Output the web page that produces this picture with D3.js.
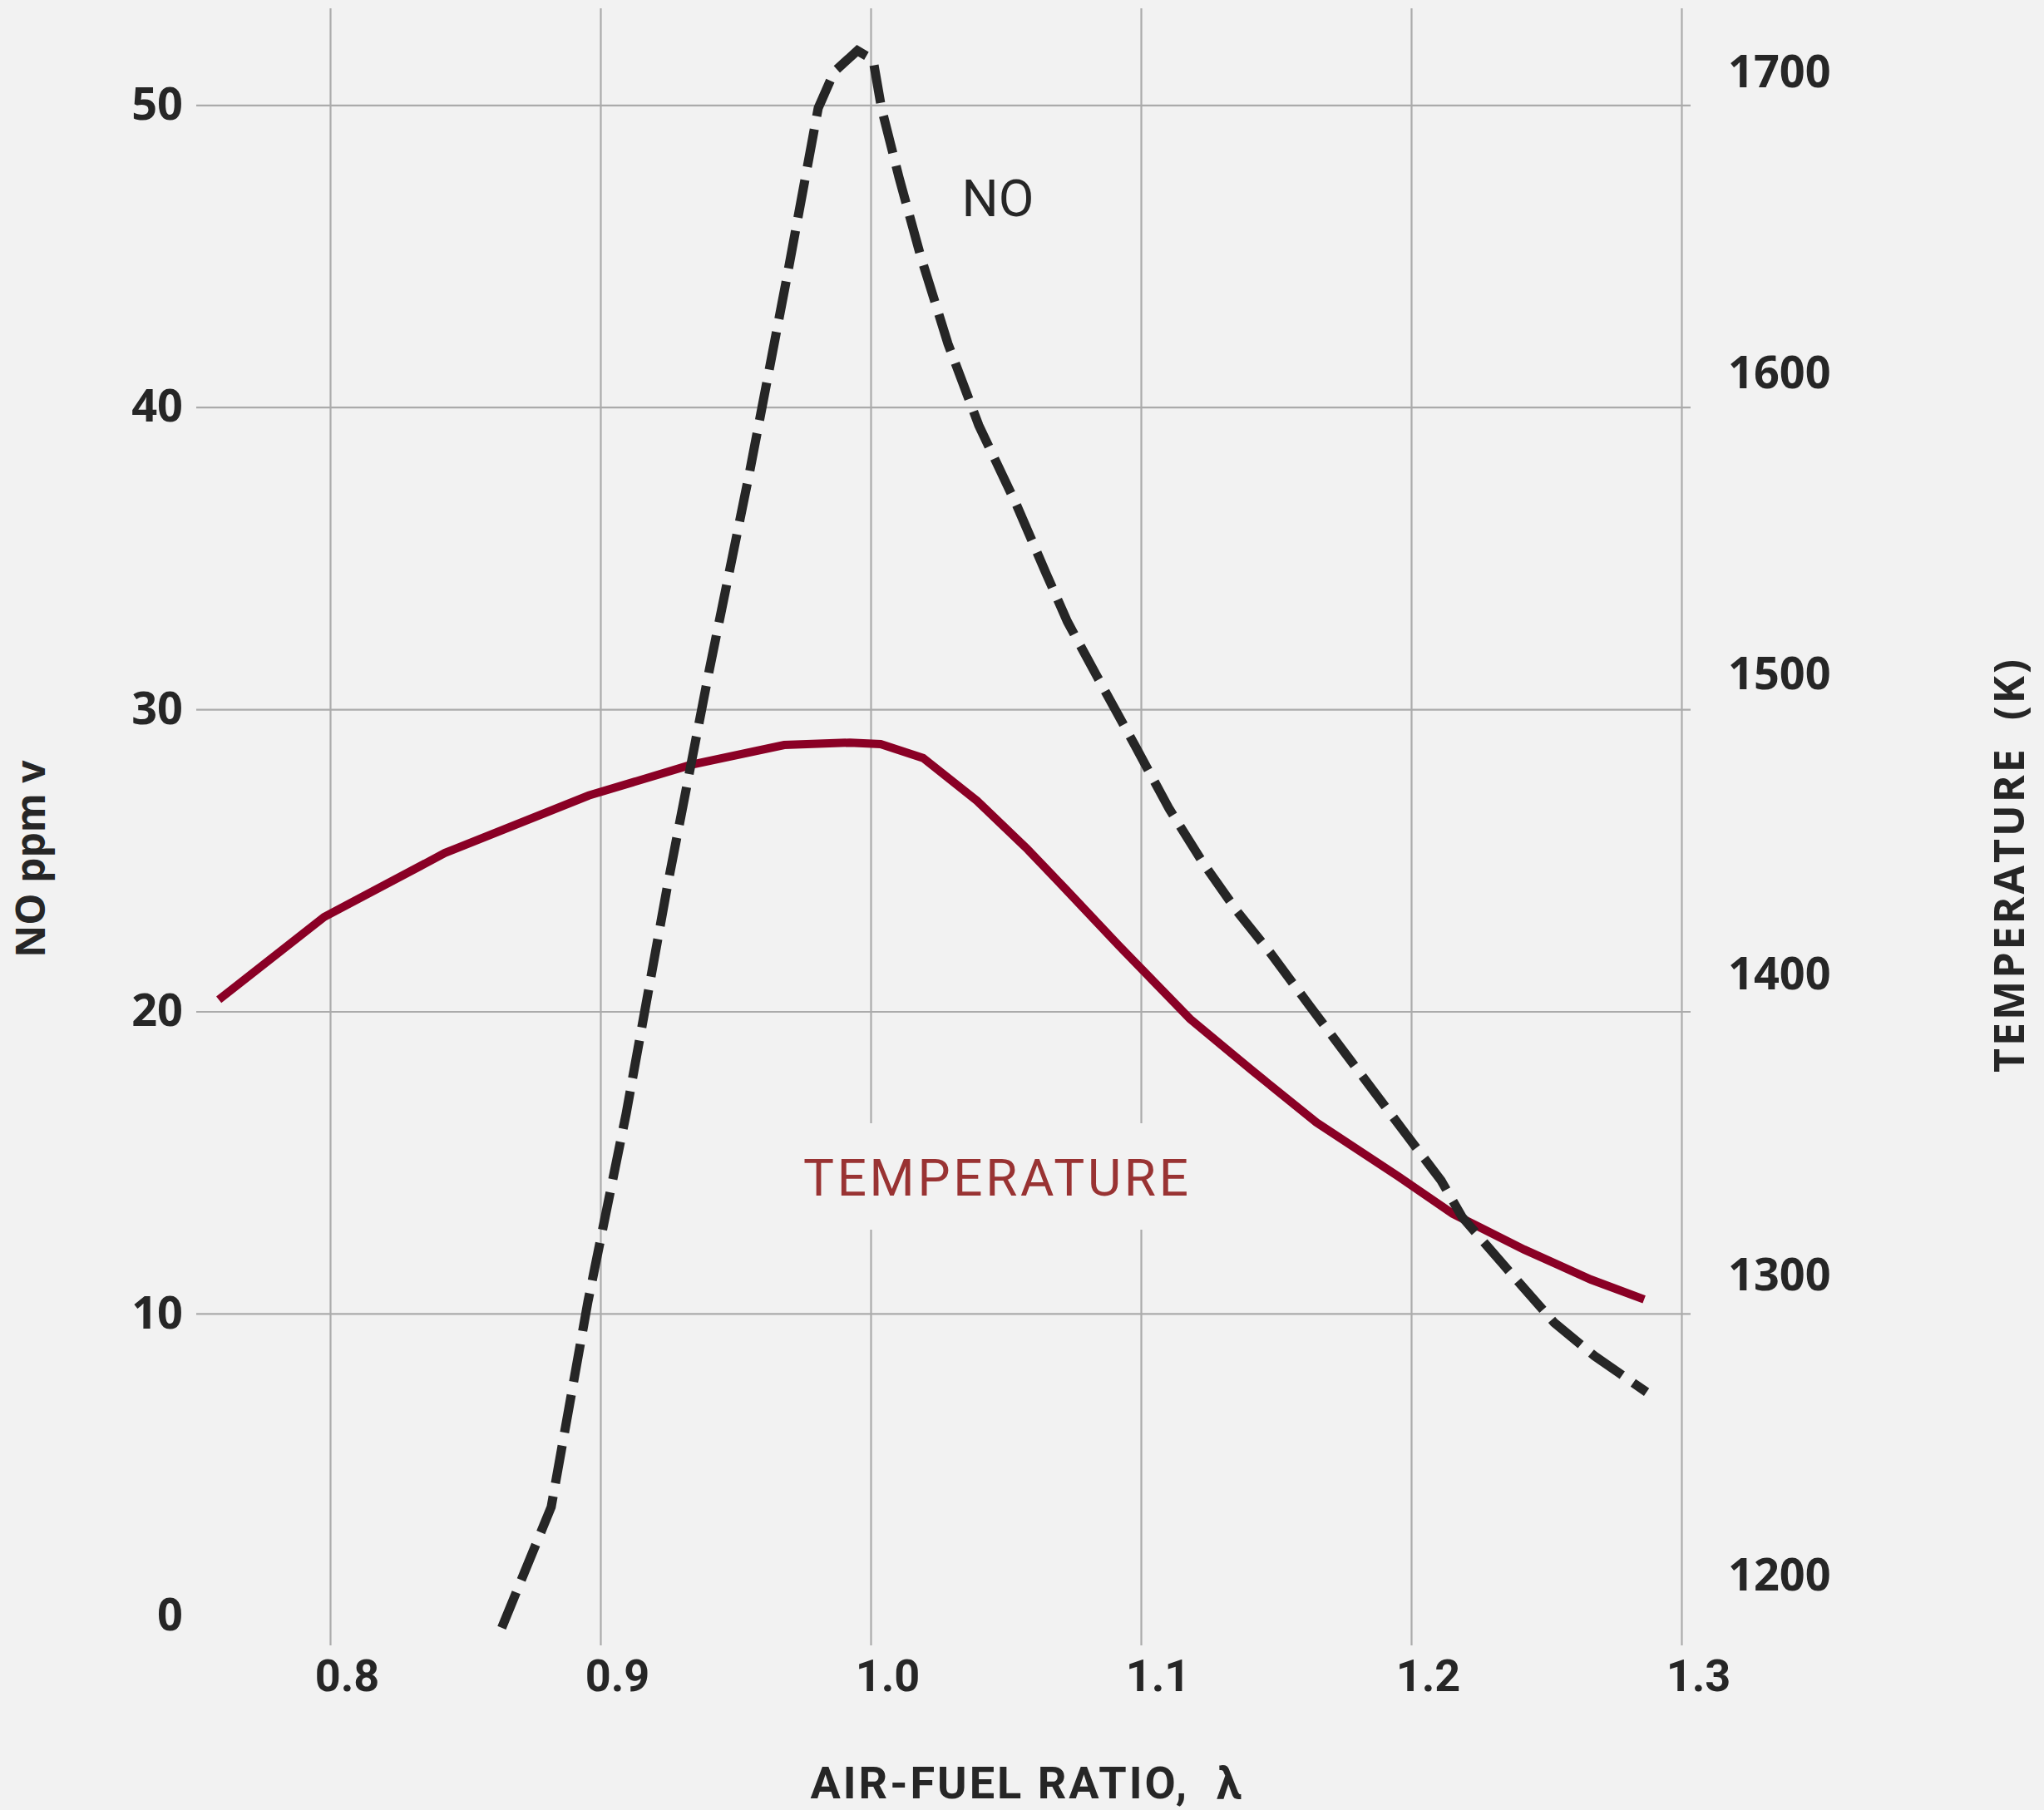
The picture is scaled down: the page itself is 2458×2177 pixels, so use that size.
<!DOCTYPE html>
<html>
  <head>
    <meta charset="utf-8" />
    <script src="https://d3js.org/d3.v7.min.js"></script>
    <title>NO and temperature vs air-fuel ratio</title>
    <style>
      body {
        margin: 0px;
        background: #f2f2f2;
      }
      .domain {
        display: none;
      }
      .grid line {
        stroke: #ababab;
        stroke-width: 2.2;
      }
      .tick text {
        fill: #262626;
      }
    </style>
  </head>
  <body>
    <svg width="2458" height="2177"></svg>
    <script>
      // data
      const noLambda = [0.8635, 0.8818, 0.8954, 0.9095, 0.9249, 0.9403, 0.9551, 0.9688, 0.9806, 0.9865, 0.9951, 1.0009, 1.004, 1.0105, 1.0185, 1.0286, 1.04, 1.0538, 1.0649, 1.0728, 1.0837, 1.0978, 1.1105, 1.1231, 1.1357, 1.1482, 1.1623, 1.1732, 1.1858, 1.1984, 1.2111, 1.2188, 1.2382, 1.2529, 1.2678, 1.2871];
      const noPpm = [-0.4, 3.6, 10.4, 16.6, 24.2, 31.3, 37.8, 44.2, 49.9, 51.1, 51.8, 51.5, 49.9, 47.6, 45.0, 42.1, 39.4, 36.8, 34.5, 32.9, 31.1, 28.8, 26.7, 24.9, 23.3, 21.9, 20.2, 18.9, 17.4, 15.9, 14.4, 13.2, 11.2, 9.7, 8.6, 7.4];

      const tempLambda = [0.7588, 0.7978, 0.8425, 0.8957, 0.9335, 0.968, 0.9923, 1.0037, 1.0194, 1.0394, 1.0582, 1.0723, 1.0917, 1.1182, 1.1412, 1.1649, 1.1951, 1.2154, 1.2418, 1.2665, 1.2862];
      const tempK = [1391.7, 1419.2, 1440.5, 1459.6, 1469.8, 1476.4, 1477.2, 1476.7, 1472.1, 1457.8, 1441.6, 1428.3, 1409.8, 1385.3, 1368.1, 1350.9, 1333.0, 1320.5, 1308.6, 1298.6, 1292.0];

      const xTicks = [0.8, 0.9, 1.0, 1.1, 1.2, 1.3];
      const yLeftTicks = [0, 10, 20, 30, 40, 50];
      const yRightTicks = [1200, 1300, 1400, 1500, 1600, 1700];

      const xLabel = "AIR-FUEL RATIO,\u00a0\u00a0λ";
      const yLabel = "NO ppm v";
      const y2Label = "TEMPERATURE\u00a0\u00a0(K)";

      const svg = d3.select("svg");
      const gridLeft = 236, gridRight = 2033, gridTop = 10, gridBottom = 1979;

      const x = d3.scaleLinear().domain([0.8, 1.3]).range([397, 2022]);
      const yL = d3.scaleLinear().domain([0, 50]).range([1943.3, 126.3]);
      const yR = d3.scaleLinear().domain([1200, 1700]).range([1895.6, 87.5]);

      const boldFont = "'Open Sans', sans-serif";
      const dinFont = "Roboto, sans-serif";

      // vertical grid
      svg.append("g")
        .attr("class", "grid")
        .attr("transform", `translate(0,${gridBottom})`)
        .call(d3.axisBottom(x).tickValues(xTicks).tickSize(-(gridBottom - gridTop)).tickFormat(""));

      // horizontal grid
      svg.append("g")
        .attr("class", "grid")
        .attr("transform", `translate(${gridLeft},0)`)
        .call(d3.axisLeft(yL).tickValues(yLeftTicks.filter((d) => d > 0)).tickSize(-(gridRight - gridLeft)).tickFormat(""));

      // break in the grid behind the TEMPERATURE label
      svg.append("rect")
        .attr("x", 950)
        .attr("y", 1351)
        .attr("width", 495)
        .attr("height", 128)
        .attr("fill", "#f2f2f2");

      // tick labels
      const xAxisG = svg.append("g")
        .attr("transform", `translate(0,${gridBottom})`)
        .call(d3.axisBottom(x).tickValues(xTicks).tickSize(0).tickPadding(17).tickFormat(d3.format(".1f")));
      xAxisG.selectAll("text")
        .attr("dx", 20)
        .attr("font-family", dinFont)
        .attr("font-weight", 700)
        .attr("font-size", 54);

      const yAxisG = svg.append("g")
        .attr("transform", `translate(${gridLeft},0)`)
        .call(d3.axisLeft(yL).tickValues(yLeftTicks).tickSize(0).tickPadding(16));
      yAxisG.selectAll("text")
        .attr("font-family", boldFont)
        .attr("font-weight", 700)
        .attr("font-size", 54);

      const y2AxisG = svg.append("g")
        .attr("transform", "translate(2078,0)")
        .call(d3.axisRight(yR).tickValues(yRightTicks).tickSize(0).tickPadding(0).tickFormat(d3.format("d")));
      y2AxisG.selectAll("text")
        .attr("font-family", boldFont)
        .attr("font-weight", 700)
        .attr("font-size", 54);

      // curves
      const noData = noLambda.map((l, i) => ({ l: l, v: noPpm[i] }));
      const tempData = tempLambda.map((l, i) => ({ l: l, v: tempK[i] }));

      svg.append("path")
        .datum(tempData)
        .attr("fill", "none")
        .attr("stroke", "#8a0025")
        .attr("stroke-width", 10)
        .attr("d", d3.line().x((d) => x(d.l)).y((d) => yR(d.v)));

      svg.append("path")
        .datum(noData)
        .attr("fill", "none")
        .attr("stroke", "#262626")
        .attr("stroke-width", 11)
        .attr("stroke-dasharray", "46,16")
        .attr("d", d3.line().x((d) => x(d.l)).y((d) => yL(d.v)));

      // curve labels
      svg.append("text")
        .attr("x", 1200)
        .attr("y", 260)
        .attr("text-anchor", "middle")
        .attr("font-family", dinFont)
        .attr("font-size", 62)
        .attr("fill", "#262626")
        .text("NO");

      svg.append("text")
        .attr("x", 966)
        .attr("y", 1438)
        .attr("textLength", 463)
        .attr("lengthAdjust", "spacing")
        .attr("font-family", dinFont)
        .attr("font-size", 62)
        .attr("fill", "#993333")
        .text("TEMPERATURE");

      // axis titles
      svg.append("text")
        .attr("x", 1235)
        .attr("y", 2163)
        .attr("text-anchor", "middle")
        .attr("font-family", dinFont)
        .attr("font-weight", 700)
        .attr("font-size", 54)
        .attr("letter-spacing", 3)
        .attr("fill", "#262626")
        .text(xLabel);

      svg.append("text")
        .attr("transform", "translate(54,1033) rotate(-90)")
        .attr("text-anchor", "middle")
        .attr("font-family", boldFont)
        .attr("font-weight", 700)
        .attr("font-size", 48)
        .attr("fill", "#262626")
        .text(yLabel);

      svg.append("text")
        .attr("transform", "translate(2434,1040) rotate(-90)")
        .attr("text-anchor", "middle")
        .attr("font-family", boldFont)
        .attr("font-weight", 700)
        .attr("font-size", 50)
        .attr("letter-spacing", 3)
        .attr("fill", "#262626")
        .text(y2Label);
    </script>
  </body>
</html>
